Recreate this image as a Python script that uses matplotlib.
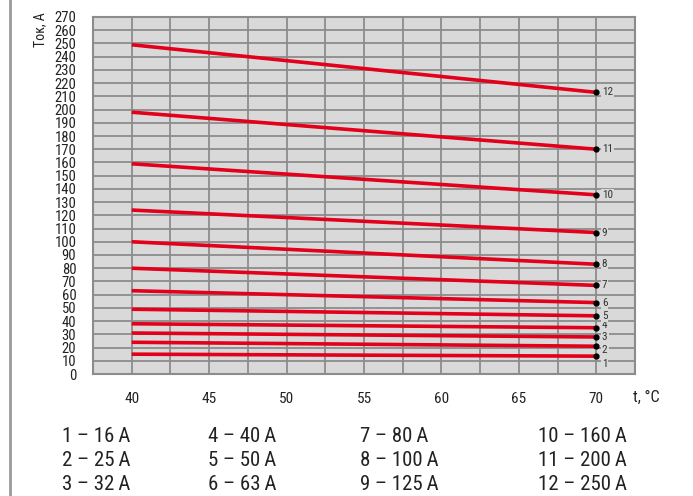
import matplotlib
matplotlib.use("Agg")
import matplotlib.pyplot as plt
from matplotlib.lines import Line2D
from matplotlib import font_manager

names = {f.name for f in font_manager.fontManager.ttflist}
fam = [n for n in ["Liberation Sans Narrow", "Roboto Condensed", "DejaVu Sans Condensed", "Liberation Sans", "DejaVu Sans"] if n in names]
plt.rcParams['font.family'] = fam + ["DejaVu Sans"]

# Data
temps = [40, 70]
series_ids = ["1", "2", "3", "4", "5", "6", "7", "8", "9", "10", "11", "12"]
start_vals = [15, 24, 31, 38, 49, 63, 80, 100, 124, 159, 198, 249]
end_vals = [13.5, 21, 28, 35, 44, 54, 67, 83, 107, 135.5, 170, 213]
legend_labels = ["1 – 16\u2009A", "2 – 25\u2009A", "3 – 32\u2009A",
                 "4 – 40\u2009A", "5 – 50\u2009A", "6 – 63\u2009A",
                 "7 – 80\u2009A", "8 – 100\u2009A", "9 – 125\u2009A",
                 "10 – 160\u2009A", "11 – 200\u2009A", "12 – 250\u2009A"]
x_ticks = [40, 45, 50, 55, 60, 65, 70]
y_ticks = list(range(0, 280, 10))

# label vertical offsets (points) to avoid overlap
label_dy = [-6, -3, 0, 2, 0, 0, 0, 0, 0, 0, 0, 0]

W, H = 693, 496
fig = plt.figure(figsize=(W / 100, H / 100), dpi=100)
ax = fig.add_axes([93 / W, (H - 374) / H, (635 - 93) / W, (374 - 17) / H])
ax.set_facecolor("#d9d9d9")
ax.set_xlim(37.5, 72.5)
ax.set_ylim(0, 270)

gc = "#8c8c8c"
for xv in [37.5 + 2.5 * i for i in range(1, 14)]:
    ax.axvline(xv, color=gc, lw=1.3, zorder=1)
for yv in y_ticks[1:-1]:
    ax.axhline(yv, color=gc, lw=1.3, zorder=1)
for s in ax.spines.values():
    s.set_color(gc)
    s.set_linewidth(1.5)

red = "#e2001a"
for sid, a, b, dy in zip(series_ids, start_vals, end_vals, label_dy):
    ax.plot(temps, [a, b], color=red, lw=2.6, solid_capstyle="butt", zorder=3)
    ax.plot([temps[1]], [b], "o", color="black", ms=3.5, zorder=4)
    ax.annotate(sid, (temps[1], b), xytext=(4, dy), textcoords="offset points",
                ha="left", va="center", fontsize=8, color="#333333", zorder=5,
                bbox=dict(boxstyle="square,pad=0.1", fc="#d9d9d9", ec="none"))

ax.set_xticks(x_ticks)
ax.set_xticklabels([str(v) for v in x_ticks], fontsize=11, color="#222222")
ax.set_yticks(y_ticks)
ax.set_yticklabels([str(v) for v in y_ticks], fontsize=10.5, color="#222222")
ax.tick_params(length=0, axis="x", pad=13)
ax.tick_params(length=0, axis="y", pad=12)

fig.text(40 / W, 1 - 30 / H, "Ток, А", rotation=90, fontsize=10, color="#222222",
         ha="center", va="center")
fig.text(633 / W, 1 - 397 / H, "t, °C", fontsize=11.5, color="#222222", ha="left", va="center")

# left border line
fig.add_artist(Line2D([10 / W, 10 / W], [0, 1], color="#999999", lw=2, transform=fig.transFigure))

col_x = [62, 208, 360, 538]
row_y = [436, 460, 484]
for i, lab in enumerate(legend_labels):
    c, r = divmod(i, 3)
    fig.text(col_x[c] / W, 1 - row_y[r] / H, lab, fontsize=15, color="#222222",
             ha="left", va="center", family=fam + ["DejaVu Sans"])

fig.savefig("out.png", dpi=100)
